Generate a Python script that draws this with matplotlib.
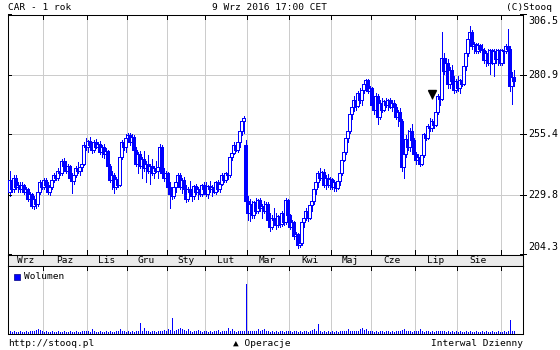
import matplotlib
matplotlib.use("Agg")
import matplotlib.pyplot as plt
import numpy as np
from matplotlib.transforms import blended_transform_factory, offset_copy
from matplotlib.patches import Rectangle

# ---------------- data ----------------
months = ["Wrz", "Paz", "Lis", "Gru", "Sty", "Lut", "Mar", "Kwi", "Maj", "Cze", "Lip", "Sie", ""]
month_days = [17, 22, 20, 20, 19, 21, 21, 21, 20, 22, 21, 22, 7]

opens = [
    231, 236, 232, 237, 233, 234, 232, 234, 231, 232, 228, 230, 225, 228, 226, 231, 235,
    233, 236, 234, 231, 233, 236, 238, 237, 240, 239, 244, 242, 240, 242, 237, 235.5, 238, 241, 240, 241.5, 243, 251,
    250, 252.5, 251, 249, 252, 250, 251.5, 248, 250, 247, 248.5, 242, 236, 238, 233, 236.5, 234, 246, 252, 250,
    254, 255, 252, 254.5, 249, 243, 247, 242, 245, 241, 243, 240, 242, 239, 241, 240, 241.5, 250, 239, 237,
    239, 233, 230, 229, 233, 235, 238, 233, 236, 232, 228, 232, 231, 229, 233.5, 231, 232, 230, 234,
    232, 230, 233.5, 232, 233, 231, 235, 232, 234.5, 238, 236, 239, 238, 246, 247.5, 251, 249, 252, 257, 261, 251,
    227, 222, 226, 221, 226.5, 223, 227.5, 224, 225, 223, 226, 219, 216, 220, 219, 217, 220.5, 217.5, 222, 218, 227.5,
    221, 216, 218, 212, 213, 208.5, 209, 218, 220, 223, 220, 225.5, 227, 232, 235, 239, 237, 239.5, 234, 237, 234,
    236.5, 233, 235, 232.5, 235.5, 239, 244.5, 248, 254, 257, 264, 267, 270, 267.5, 273, 270, 274.5, 277, 278.5, 274,
    275, 268, 266, 272, 263, 269, 266, 269.5, 268, 270, 267, 269, 267, 263, 265, 261, 241.5, 247, 253.5, 250, 257, 253,
    247, 244.5, 246, 243, 246.5, 255.5, 254, 259, 258, 261, 259.5, 265, 272, 270.5, 288, 282.5, 286, 277, 283, 278, 274.5,
    278, 275, 278.5, 277, 284.5, 290, 296, 299, 293, 294, 291, 293.5, 292, 291.5, 287, 290, 286, 291.5, 286, 291, 287.5, 291.5,
    286, 291.5, 291, 293, 292, 276, 280,
]
highs = [
    240, 237, 238, 238, 235, 235, 235, 234.5, 233, 232.5, 231, 230.5, 229, 229, 232, 236, 236,
    237, 237, 235, 234, 237, 239, 240, 241, 242, 245, 245.5, 244, 243, 242.5, 239, 239, 242, 243.5, 242, 244, 252, 254,
    253, 254.5, 252, 253, 253.5, 252, 252.5, 251, 251.5, 249.5, 249, 243, 240, 239, 237.5, 238, 247, 253, 254, 255.5,
    256.2, 256, 255.5, 255, 250, 248, 248.5, 246, 248.5, 244, 246.5, 243, 245, 242, 244, 242, 251.5, 251, 241, 240,
    239.5, 235, 232, 234, 236, 239, 239, 237, 237.5, 234, 233, 235.5, 233, 234, 234.5, 233, 234, 234.5, 235,
    235, 234, 235.5, 234, 235, 235.7, 236, 235, 239, 239, 239.5, 240, 247, 248.5, 252, 252, 252.5, 258, 262, 263.4, 253,
    229, 228, 227, 227, 228.5, 228, 228.3, 226, 227, 226.5, 226.5, 222, 221, 224.3, 222, 221, 221, 223, 222.5, 228.5, 228,
    221.5, 219, 218.5, 214, 213.5, 212, 219, 221, 224.3, 223.5, 226, 228, 233, 236, 240, 241.3, 240, 240.5, 238, 238.5, 237.5,
    237, 236, 235.5, 236, 240, 245.5, 248.5, 255, 258.3, 265, 268.5, 272, 271, 274, 275.3, 275, 278, 279.2, 279, 276,
    275.5, 270, 273.2, 272.5, 270, 271, 270, 271.1, 270.5, 271, 270, 270, 268.5, 266, 266.5, 262, 248, 255, 257.5, 258, 260, 254,
    248, 247, 246.5, 247.2, 256, 257, 260, 262.6, 262, 262.5, 266, 272.8, 273, 299, 290.3, 288, 287.7, 284, 285, 280.5, 279,
    280.5, 279, 280, 285, 291.5, 297, 301.8, 300, 295, 294.5, 294.5, 294, 294, 292.4, 291, 292, 292, 292, 292, 292, 292, 292,
    292, 292, 294, 300.5, 293, 282, 283,
]
lows = [
    229, 231, 231, 232, 231, 231, 231, 230, 229, 227, 226, 224, 223.5, 224, 225, 230, 232,
    232, 233, 230, 229.5, 232, 235, 236, 236, 238, 238, 241, 239, 238.5, 236, 230.6, 234.5, 237.5, 239, 238, 240, 242.5, 249,
    248, 250, 247.5, 248, 249.5, 248, 247, 246, 245.5, 245, 241, 235, 232, 230.5, 232, 233, 233.5, 245, 249, 248,
    252, 251, 250, 248, 242, 239, 241, 237, 240, 235, 239, 234.5, 238, 237, 239.5, 237, 240, 238, 235.7, 236.5,
    232, 224.2, 228, 228.5, 231, 234, 232, 230.5, 231, 226.5, 227, 230, 227, 228, 230, 228, 229, 229, 231,
    229, 228.5, 231, 229, 230.5, 230, 231.5, 231, 234, 235, 235, 236.5, 237.5, 244.5, 247, 248.5, 248, 250, 255, 256, 225.5,
    219, 218.7, 220, 220, 222, 222, 223, 220, 222, 221, 218, 214.4, 215, 218, 215.3, 216, 216, 216.5, 217, 217.4, 220,
    215, 213, 211, 209, 207.2, 207.5, 208.5, 216, 219, 218.7, 219.5, 223, 226, 230, 233, 236, 235, 233, 232, 233, 232,
    232, 231.5, 231.5, 232, 234, 238, 244, 247, 252, 256, 262, 265.6, 266, 267, 269, 268, 273, 275, 273, 272.8,
    267, 264.3, 265, 260, 262, 265, 265.5, 267, 266, 266.5, 265.6, 266, 262, 259, 260, 240, 237, 246, 249, 248.5, 252, 246,
    243, 243, 242, 242.5, 246, 253, 253.5, 257, 257, 258, 259, 264, 268, 270, 281, 279, 275, 275, 276, 273.2, 273.5,
    274, 273.2, 276, 276.5, 283, 289, 293, 292, 290, 290, 290, 290.5, 290, 286, 284.7, 285, 281, 285.5, 280.5, 286, 285, 285,
    285, 286, 290, 292, 274, 268.5, 276,
]
closes = [
    236, 232, 237, 233, 234, 232, 234, 231, 232, 228, 230, 225, 228, 226, 231, 235, 233,
    236, 234, 231, 233, 236, 238, 237, 240, 239, 244, 242, 240, 242, 237, 235.5, 238, 241, 240, 241.5, 243, 251, 250,
    252.5, 251, 249, 252, 250, 251.5, 248, 250, 247, 248.5, 242, 236, 238, 233, 236.5, 234, 246, 252, 250, 254,
    255, 252, 254.5, 249, 243, 247, 242, 245, 241, 243, 240, 242, 239, 241, 240, 241.5, 250, 239, 237, 239,
    233, 230, 229, 233, 235, 238, 233, 236, 232, 228, 232, 231, 229, 233.5, 231, 232, 230, 234, 232,
    230, 233.5, 232, 233, 231, 235, 232, 234.5, 238, 236, 239, 238, 246, 247.5, 251, 249, 252, 257, 261, 262.5, 227,
    222, 226, 221, 226.5, 223, 227.5, 224, 225, 223, 226, 219, 216, 220, 219, 217, 220.5, 217.5, 222, 218, 227.5, 221,
    216, 218, 212, 213, 208.5, 209, 218, 220, 223, 220, 225.5, 227, 232, 235, 239, 237, 239.5, 234, 237, 234, 236.5,
    233, 235, 232.5, 235.5, 239, 244.5, 248, 254, 257, 264, 267, 270, 267.5, 273, 270, 274.5, 277, 278.5, 274, 275,
    268, 266, 272, 263, 269, 266, 269.5, 268, 270, 267, 269, 267, 263, 265, 261, 241.5, 247, 253.5, 250, 257, 253, 247,
    244.5, 246, 243, 246.5, 255.5, 254, 259, 258, 261, 259.5, 265, 272, 270.5, 288, 282.5, 286, 277, 283, 278, 274.5, 278,
    275, 278.5, 277, 284.5, 290, 296, 299, 293, 294, 291, 293.5, 292, 291.5, 287, 290, 286, 291.5, 286, 291, 287.5, 291.5, 286,
    291.5, 291, 293, 292, 276, 280, 278,
]
volumes = [
    3, 2, 3, 2, 2, 3, 2, 2, 3, 2, 3, 4, 3, 6, 8, 6, 3,
    2, 3, 2, 2, 3, 2, 2, 3, 2, 2, 3, 2, 2, 3, 2, 2, 3, 2, 2, 3, 4, 3,
    3, 2, 8, 3, 2, 2, 3, 2, 2, 3, 2, 3, 2, 2, 3, 3, 8, 4, 3, 2,
    3, 2, 3, 2, 3, 3, 20, 3, 10, 4, 3, 2, 3, 3, 2, 3, 4, 3, 6, 4,
    8, 6, 30, 3, 6, 8, 10, 8, 6, 3, 8, 3, 2, 3, 3, 6, 3, 2, 3,
    3, 2, 3, 2, 3, 3, 6, 2, 3, 4, 3, 10, 3, 8, 3, 2, 3, 4, 3, 4, 98,
    4, 3, 3, 3, 4, 8, 4, 6, 8, 4, 3, 2, 3, 2, 3, 2, 3, 3, 2, 3, 3,
    3, 2, 3, 3, 2, 3, 2, 3, 3, 2, 3, 6, 8, 3, 18, 3, 2, 3, 2, 3, 2,
    3, 2, 3, 2, 3, 3, 3, 3, 8, 3, 4, 3, 4, 3, 8, 10, 6, 8, 3, 3,
    3, 2, 3, 2, 3, 3, 2, 3, 3, 2, 3, 2, 3, 3, 4, 6, 8, 4, 3, 3, 2, 3,
    3, 3, 8, 3, 2, 3, 3, 2, 3, 2, 3, 3, 3, 4, 3, 2, 3, 2, 3, 2, 3,
    2, 3, 2, 2, 3, 2, 3, 2, 2, 3, 2, 2, 3, 2, 3, 2, 2, 3, 2, 2, 3, 2,
    2, 3, 2, 3, 26, 4, 3,
]
price_ticks = [306.5, 280.9, 255.4, 229.8, 204.3]
price_labels = ["306.5", "280.9", "255.4", "229.8", "204.3"]
op_day = 211
op_price = 272.5

title_left = "CAR - 1 rok"
title_mid = "9 Wrz 2016 17:00 CET"
title_right = "(C)Stooq"
foot_left = "http://stooq.pl"
foot_mid = "\u25B2 Operacje"
foot_right = "Interwal Dzienny"
vol_label = "Wolumen"

# ---------------- style ----------------
BLUE = "#0000ff"
GRID = "#cccccc"
BAND = "#ebebeb"
FONT = ["DejaVu Sans Mono", "DejaVu Sans"]
FS = 6.8
LW = 0.6
plt.rcParams["font.family"] = FONT

W, H = 560, 350
fig = plt.figure(figsize=(W / 100, H / 100), dpi=100)
fig.patch.set_facecolor("white")


def box(l, t, r, b):
    return [l / W, 1 - b / H, (r - l) / W, (b - t) / H]


ax = fig.add_axes(box(8, 14.5, 523, 254.5))
band = fig.add_axes(box(8, 254.5, 523, 266))
axv = fig.add_axes(box(8, 266, 523, 334))

n = len(closes)
x = np.arange(n)
o = np.array(opens, float)
c = np.array(closes, float)
hi = np.array(highs, float)
lo = np.array(lows, float)
starts = np.cumsum([0] + month_days[:-1])
bounds = starts[1:] - 0.5
XL = (-0.75, 256.75)

for a in (ax, band, axv):
    a.set_xlim(*XL)
    a.set_xticks([])
    a.set_yticks([])
    for s in a.spines.values():
        s.set_color("black")
        s.set_linewidth(0.75)

# grid lines
for b in bounds:
    ax.axvline(b, color=GRID, lw=LW, zorder=0, antialiased=False)
    axv.axvline(b, color=GRID, lw=LW, zorder=0, antialiased=False)
for v in price_ticks[1:-1]:
    ax.axhline(v, color=GRID, lw=LW, zorder=0, antialiased=False)

ax.set_ylim(204.3, 306.5)

# candles
up = c >= o
ax.vlines(x, lo, hi, color=BLUE, lw=LW, zorder=2, antialiased=False)
bottoms = np.minimum(o, c)
heights = np.maximum(np.abs(c - o), 0.35)
ax.bar(x, heights, bottom=bottoms, width=1.4,
       color=np.where(up, "white", BLUE), edgecolor=BLUE, linewidth=LW,
       zorder=3, antialiased=False)

# operation marker
ax.plot([op_day], [op_price], marker="v", color="black", ms=5.5, zorder=5)
ax.vlines([op_day], op_price - 2.0, op_price, color="black", lw=0.9, zorder=5)

# month tick marks
tr_ax = blended_transform_factory(ax.transData, ax.transAxes)
tr_v = blended_transform_factory(axv.transData, axv.transAxes)
for b in bounds:
    ax.plot([b, b], [1, 1 - 4 / 240], color="black", lw=LW, transform=tr_ax, clip_on=False, antialiased=False)
    ax.plot([b, b], [0, 5 / 240], color="black", lw=LW, transform=tr_ax, clip_on=False, antialiased=False)
    axv.plot([b, b], [1, 1 - 4 / 68], color="black", lw=LW, transform=tr_v, clip_on=False, antialiased=False)

# price ticks & labels
tr_y = blended_transform_factory(ax.transAxes, ax.transData)
for v, lab in zip(price_ticks, price_labels):
    ax.plot([1 - 3 / 515, 1 + 3 / 515], [v, v], color="black", lw=LW, transform=tr_y, clip_on=False, antialiased=False)
    ax.plot([0, 3 / 515], [v, v], color="black", lw=LW, transform=tr_y, clip_on=False, antialiased=False)
    dy = 0
    if v == price_ticks[0]:
        dy = -7
    elif v == price_ticks[-1]:
        dy = 7
    t = offset_copy(tr_y, fig=fig, x=5, y=dy, units="dots")
    ax.text(1, v, lab, transform=t, ha="left", va="center", fontsize=FS + 0.4)

# month band
band.set_facecolor(BAND)
for k, lab in enumerate(months):
    if lab:
        center = starts[k] + (month_days[k] - 1) / 2
        band.text(center, 0.45, lab, ha="center", va="center", fontsize=FS,
                  transform=blended_transform_factory(band.transData, band.transAxes))

# volume
axv.set_ylim(-3, 133)
axv.vlines(x, 0, volumes, color=BLUE, lw=LW, antialiased=False)
fig.add_artist(Rectangle((14 / W, 1 - 279.5 / H), 6 / W, 6 / H, transform=fig.transFigure,
                         facecolor=BLUE, edgecolor="#000080", lw=0.5))
fig.text(24 / W, 1 - 276.5 / H, vol_label, ha="left", va="center", fontsize=FS)

# header and footer
fig.text(8 / W, 1 - 7 / H, title_left, ha="left", va="center", fontsize=FS)
fig.text(269 / W, 1 - 7 / H, title_mid, ha="center", va="center", fontsize=FS)
fig.text(552 / W, 1 - 7 / H, title_right, ha="right", va="center", fontsize=FS)
fig.text(8 / W, 1 - 344 / H, foot_left, ha="left", va="center", fontsize=FS)
fig.text(233 / W, 1 - 344 / H, foot_mid, ha="left", va="center", fontsize=FS)
fig.text(523 / W, 1 - 344 / H, foot_right, ha="right", va="center", fontsize=FS)

fig.savefig("out.png", dpi=100, facecolor="white")
